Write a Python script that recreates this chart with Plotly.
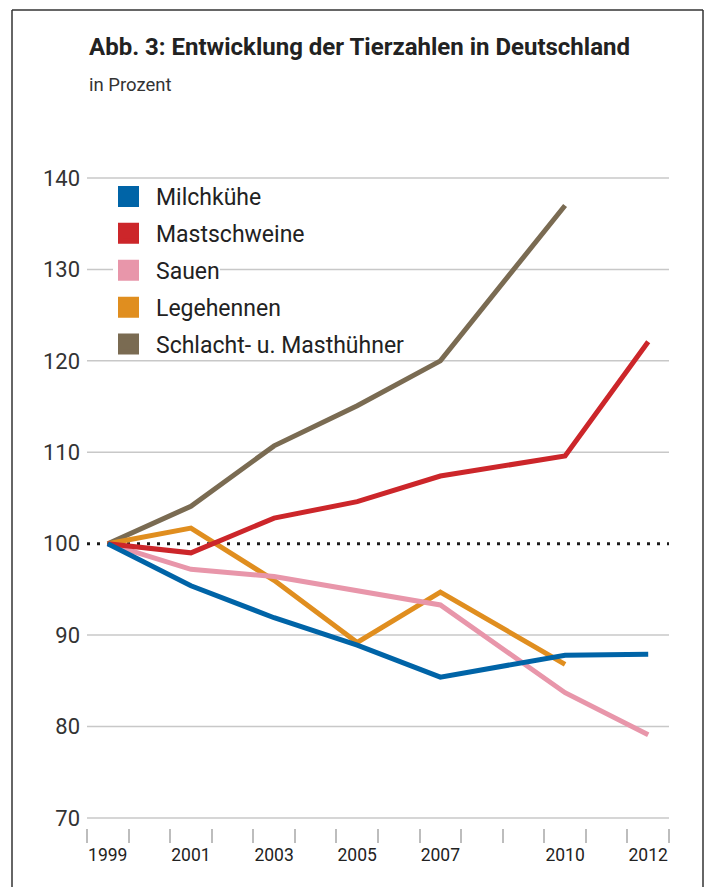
import plotly.graph_objects as go

# ---------------- data ----------------
years = [1999, 2001, 2003, 2005, 2007, 2010, 2012]
year_labels = ["1999", "2001", "2003", "2005", "2007", "2010", "2012"]

milchkuehe = [100, 95.4, 91.9, 88.9, 85.4, 87.8, 87.9]
mastschweine = [100, 99.0, 102.8, 104.6, 107.4, 109.6, 122.1]
sauen = [100, 97.2, 96.4, 94.8, 93.3, 83.7, 79.1]
legehennen = [100, 101.7, 96.0, 89.2, 94.7, 86.8, None]
masthuehner = [100, 104.1, 110.7, 115.1, 120.0, 137.0, None]

series_names = ["Milchkühe", "Mastschweine", "Sauen", "Legehennen", "Schlacht- u. Masthühner"]
series_values = [milchkuehe, mastschweine, sauen, legehennen, masthuehner]
series_colors = ["#0064a7", "#cc262a", "#e896aa", "#e08e1f", "#7a6b52"]

y_ticks = [70, 80, 90, 100, 110, 120, 130, 140]
baseline = 100

# ---------------- layout geometry ----------------
W, H = 708, 887
ML, MR, MT, MB = 87, 39, 175, 59
PW = W - ML - MR
PH = H - MT - MB


def px_x(p):
    return (p - ML) / PW


def px_y(p):
    return (H - MB - p) / PH


FONT = "Roboto"

fig = go.Figure()

# lines (draw order: brown, orange, pink, red, blue on top)
for idx in [4, 3, 2, 1, 0]:
    fig.add_trace(go.Scatter(
        x=years, y=series_values[idx], mode="lines",
        line=dict(color=series_colors[idx], width=5),
        showlegend=False, hoverinfo="skip",
    ))

# legend entries (square swatches)
for name, color in zip(series_names, series_colors):
    fig.add_trace(go.Scatter(
        x=[None], y=[None], mode="markers", name=name, legendgroup=name,
        marker=dict(symbol="square", size=16, color=color,
                    line=dict(color=color, width=5)),
        showlegend=True, hoverinfo="skip",
    ))

minor_ticks = [years[0] - 0.5 + i for i in range(years[-1] - years[0] + 2)]

shapes = []
# horizontal grid lines (except the dotted 100 baseline)
for v in y_ticks:
    if v == baseline:
        continue
    shapes.append(dict(type="line", xref="paper", x0=0, x1=1, yref="y", y0=v, y1=v,
                       line=dict(color="#c8c8c8", width=1.5), layer="below"))
# dotted reference line at 100
shapes.append(dict(type="line", xref="paper", x0=0, x1=1, yref="y", y0=baseline, y1=baseline,
                   line=dict(color="#1a1a1a", width=3, dash="3px,7px"), layer="below"))
# white patch behind 'Sauen' legend item
shapes.append(dict(type="rect", xref="paper", yref="paper",
                   x0=px_x(113), x1=px_x(220), y0=px_y(283), y1=px_y(257),
                   fillcolor="white", line=dict(width=0), layer="below"))
# frame
for (x0, y0, x1, y1) in [(12, 10, 12, 900), (12, 10, 703, 10), (703, 10, 703, 900)]:
    shapes.append(dict(type="line", xref="paper", yref="paper",
                       x0=px_x(x0), x1=px_x(x1), y0=px_y(y0), y1=px_y(y1),
                       line=dict(color="#333", width=1.5), layer="above"))

fig.update_layout(
    width=W, height=H,
    margin=dict(l=ML, r=MR, t=MT, b=MB),
    paper_bgcolor="white", plot_bgcolor="white",
    font=dict(family=FONT, color="#222"),
    xaxis=dict(
        range=[years[0] - 0.5, years[-1] + 0.5],
        tickmode="array", tickvals=years, ticktext=year_labels,
        ticks="", showgrid=False, zeroline=False, showline=False,
        tickfont=dict(family=FONT, size=17.5, color="#222"),
        ticklabelstandoff=14,
        minor=dict(tickmode="array", tickvals=minor_ticks, ticks="outside",
                   ticklen=14, tickwidth=1.5, tickcolor="#bdbdbd",
                   showgrid=False),
        fixedrange=True,
    ),
    yaxis=dict(
        range=[68.9, 140.33],
        tickmode="array", tickvals=y_ticks,
        ticks="", showgrid=False,
        zeroline=False, showline=False,
        tickfont=dict(family=FONT, size=22, color="#333"),
        ticklabelstandoff=6,
        fixedrange=True,
    ),
    legend=dict(
        x=px_x(101), y=px_y(175), xanchor="left", yanchor="top",
        bgcolor="rgba(0,0,0,0)", borderwidth=0,
        font=dict(family=FONT, size=23, color="#222"),
        itemwidth=45, tracegroupgap=4, traceorder="grouped",
    ),
    shapes=shapes,
    annotations=[
        dict(text="<b>Abb. 3: Entwicklung der Tierzahlen in Deutschland</b>",
             xref="paper", yref="paper", x=px_x(87), y=px_y(47),
             xanchor="left", yanchor="middle", showarrow=False,
             font=dict(family=FONT, size=24, color="#222")),
        dict(text="in Prozent",
             xref="paper", yref="paper", x=px_x(87), y=px_y(85),
             xanchor="left", yanchor="middle", showarrow=False,
             font=dict(family=FONT, size=18.5, color="#333")),
    ],
)

fig.write_html("out.html")
